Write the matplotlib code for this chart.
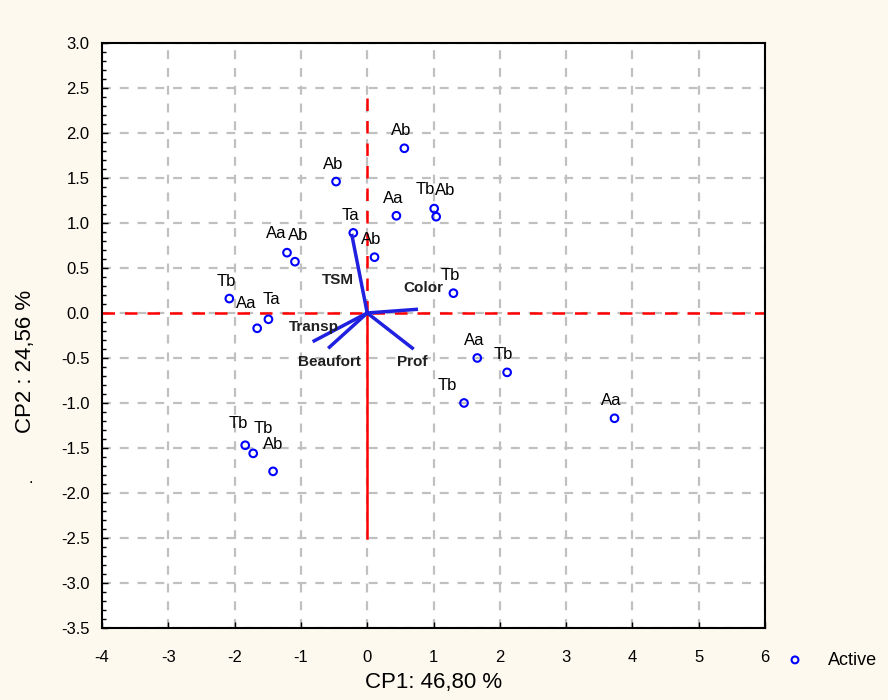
import numpy as np
import matplotlib.pyplot as plt
from matplotlib.ticker import MultipleLocator

plt.rcParams['font.family'] = ['Liberation Sans', 'DejaVu Sans']
plt.rcParams['axes.unicode_minus'] = False

# observation scores (CP1, CP2) and their labels
obs_x = [0.56, -0.47, 0.44, 1.01, 1.04, 0.11, -0.21, -1.21, -1.09, -2.08, -1.66, -1.49,
         1.30, 1.66, 2.11, 1.46, 3.73, -1.84, -1.72, -1.42]
obs_y = [1.83, 1.46, 1.08, 1.16, 1.07, 0.62, 0.89, 0.67, 0.57, 0.16, -0.17, -0.07,
         0.22, -0.50, -0.66, -1.00, -1.17, -1.47, -1.56, -1.76]
obs_lab = ['Ab', 'Ab', 'Aa', 'Tb', 'Ab', 'Ab', 'Ta', 'Aa', 'Ab', 'Tb', 'Aa', 'Ta',
           'Tb', 'Aa', 'Tb', 'Tb', 'Aa', 'Tb', 'Tb', 'Ab']
# small shifts for overlapping labels (data units)
lab_dx = [0, 0, 0, -0.08, 0.18, 0, 0, -0.12, 0.1, 0, -0.12, 0.1,
          0, 0, 0, -0.2, 0, -0.05, 0.2, 0.05]
lab_dy = [0, 0, 0, 0.02, 0.1, 0, 0, 0.02, 0.1, 0, 0.08, 0.03,
          0, 0, 0, 0, 0, 0.05, 0.08, 0.1]

# variable loadings
var_names = ['TSM', 'Color', 'Prof', 'Transp', 'Beaufort']
var_x = [-0.23, 0.74, 0.68, -0.80, -0.57]
var_y = [0.86, 0.04, -0.39, -0.31, -0.38]
var_tx = [-0.45, 0.85, 0.68, -0.80, -0.57]
var_ty = [0.37, 0.28, -0.55, -0.16, -0.55]

fig = plt.figure(figsize=(8.88, 7.0), dpi=100, facecolor='#fdf9ee')
ax = fig.add_axes([0.1149, 0.1029, 0.7466, 0.8357])
ax.set_facecolor('white')

ax.set_xlim(-4, 6)
ax.set_ylim(-3.5, 3.0)
ax.xaxis.set_major_locator(MultipleLocator(1))
ax.yaxis.set_major_locator(MultipleLocator(0.5))
ax.yaxis.set_minor_locator(MultipleLocator(0.1))
ax.yaxis.set_major_formatter(plt.FormatStrFormatter('%.1f'))
ax.grid(True, color='#c0c0c0', linestyle=(0, (4, 4)), linewidth=1.6)
ax.tick_params(axis='both', direction='in', length=4, width=1, labelsize=12, pad=9)
ax.tick_params(axis='y', which='minor', direction='in', length=3, width=1)
ax.tick_params(axis='x', pad=16)
for s in ax.spines.values():
    s.set_linewidth(1.5)

# reference lines
ax.axhline(0, color='red', linestyle=(0, (5, 4)), linewidth=1.8, zorder=2)
ax.plot([0, 0], [0, 2.5], color='red', linestyle=(0, (5, 4)), linewidth=1.8, zorder=2)
ax.plot([0, 0], [-2.5, 0], color='red', linewidth=1.8, zorder=2)

ax.scatter(obs_x, obs_y, s=30, facecolors='none', edgecolors='blue', linewidths=1.5,
           zorder=3, label='Active')
for x, y, t, dx, dy in zip(obs_x, obs_y, obs_lab, lab_dx, lab_dy):
    ax.text(x - 0.05 + dx, y + 0.11 + dy, t, ha='center', va='bottom', fontsize=12, zorder=4)

for x, y, tx, ty, n in zip(var_x, var_y, var_tx, var_ty, var_names):
    ax.plot([0, x], [0, y], color='#2020e0', linewidth=2.5, zorder=4)
    ax.text(tx, ty, n, ha='center', va='center', fontsize=11, fontweight='bold',
            color='#202020', zorder=5)

ax.set_xlabel('CP1: 46,80 %', fontsize=16, labelpad=5)
ax.set_ylabel('CP2 : 24,56 %', fontsize=16)
ax.yaxis.set_label_coords(-0.1, 0.455)
fig.text(0.035, 0.31, '.', fontsize=12, ha='center')

leg = ax.legend(loc='center left', bbox_to_anchor=(1.018, -0.055), frameon=False,
                fontsize=13, handletextpad=1.2, handlelength=1.2, borderpad=0.2,
                borderaxespad=0.2, markerscale=0.9)

fig.savefig('out.png', dpi=100, facecolor=fig.get_facecolor())
